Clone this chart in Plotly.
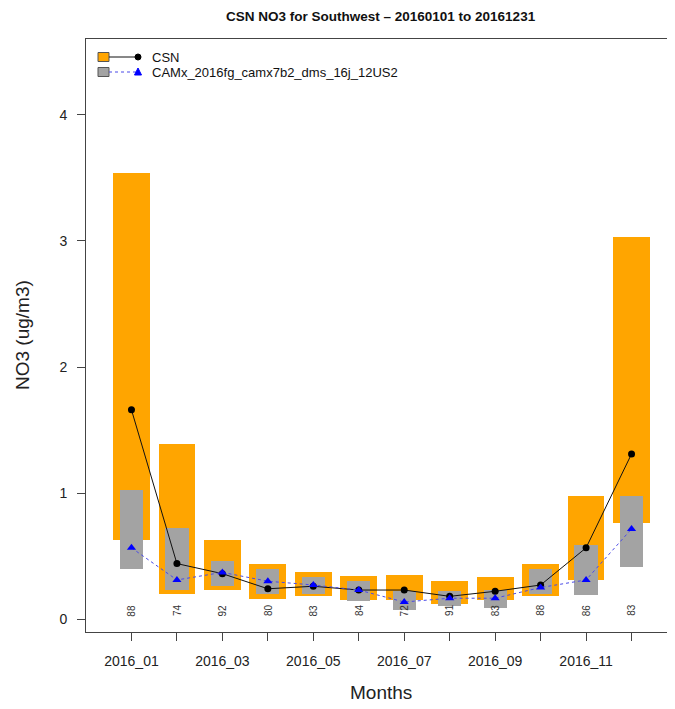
import plotly.graph_objects as go

months = ["2016_01", "2016_02", "2016_03", "2016_04", "2016_05", "2016_06",
          "2016_07", "2016_08", "2016_09", "2016_10", "2016_11", "2016_12"]
tick_labels = ["2016_01", "", "2016_03", "", "2016_05", "", "2016_07", "",
               "2016_09", "", "2016_11", ""]
csn_low = [0.63, 0.20, 0.23, 0.16, 0.18, 0.15, 0.15, 0.12, 0.15, 0.18, 0.31, 0.76]
csn_high = [3.54, 1.39, 0.63, 0.44, 0.37, 0.34, 0.35, 0.30, 0.33, 0.44, 0.98, 3.03]
camx_low = [0.40, 0.23, 0.26, 0.20, 0.20, 0.14, 0.07, 0.10, 0.09, 0.20, 0.19, 0.41]
camx_high = [1.02, 0.72, 0.46, 0.40, 0.33, 0.30, 0.22, 0.22, 0.23, 0.40, 0.59, 0.98]
csn_median = [1.66, 0.44, 0.36, 0.24, 0.26, 0.23, 0.23, 0.18, 0.22, 0.27, 0.565, 1.31]
camx_median = [0.565, 0.31, 0.37, 0.30, 0.27, 0.23, 0.135, 0.165, 0.165, 0.25, 0.31, 0.715]
counts = [88, 74, 92, 80, 83, 84, 72, 91, 83, 88, 86, 83]
yticks = [0, 1, 2, 3, 4]

FONT = "Liberation Sans, Arial, Helvetica, sans-serif"
ORANGE = "#FFA500"
GRAY = "#A3A3A3"
xpos = list(range(1, len(months) + 1))

fig = go.Figure()
fig.add_trace(go.Bar(x=xpos, y=[h - l for h, l in zip(csn_high, csn_low)], base=csn_low,
                     width=0.81, marker=dict(color=ORANGE, line=dict(width=0)),
                     name="CSN", showlegend=False, hoverinfo="skip"))
fig.add_trace(go.Bar(x=xpos, y=[h - l for h, l in zip(camx_high, camx_low)], base=camx_low,
                     width=0.51, marker=dict(color=GRAY, line=dict(width=0)),
                     name="CAMx", showlegend=False, hoverinfo="skip"))
fig.add_trace(go.Scatter(x=xpos, y=csn_median, mode="lines+markers",
                         line=dict(color="#111111", width=1),
                         marker=dict(symbol="circle", size=7, color="#000000"),
                         showlegend=False))
fig.add_trace(go.Scatter(x=xpos, y=camx_median, mode="lines+markers",
                         line=dict(color="#4a4ae8", width=1, dash="3px,3px"),
                         marker=dict(symbol="triangle-up", size=8, color="#0000FF"),
                         showlegend=False))

# count labels
for xp, c in zip(xpos, counts):
    fig.add_annotation(x=xp, y=0.07, xref="x", yref="y", text=str(c), showarrow=False,
                       textangle=-90, font=dict(family=FONT, size=10, color="#333333"))

# page body has an 8px margin: work in figure coords = screen coords - 8
OFF = 8
L, T = 86 - OFF, 39 - OFF          # plot area left/top in figure coords
PR, PB = 677 - OFF, 632 - OFF      # plot area right/bottom in figure coords
W, H = PR, 709 - OFF
B = H - PB
pw = PR - L
ph = PB - T


def px(xs):
    return (xs - OFF - L) / pw


def py(ys):
    return (PB - (ys - OFF)) / ph


shapes = []
rows = [(57, ORANGE, "#111111", "solid", "circle", "CSN"),
        (72, GRAY, "#4a4ae8", "dot", "triangle", "CAMx_2016fg_camx7b2_dms_16j_12US2")]
for ry, fill, lc, dash, mk, label in rows:
    shapes.append(dict(type="rect", xref="paper", yref="paper",
                       x0=px(98), x1=px(109), y0=py(ry + 4.5), y1=py(ry - 4.5),
                       fillcolor=fill, line=dict(color="#555555", width=1)))
    shapes.append(dict(type="line", xref="paper", yref="paper",
                       x0=px(109), x1=px(138), y0=py(ry), y1=py(ry),
                       line=dict(color=lc, width=1, dash=dash)))
    if mk == "circle":
        shapes.append(dict(type="circle", xref="paper", yref="paper",
                           x0=px(135), x1=px(141), y0=py(ry + 3), y1=py(ry - 3),
                           fillcolor="#000000", line=dict(color="#000000", width=1)))
    else:
        path = "M {a},{b} L {c},{d} L {e},{f} Z".format(
            a=px(134.5), b=py(ry + 3), c=px(141.5), d=py(ry + 3), e=px(138), f=py(ry - 4))
        shapes.append(dict(type="path", xref="paper", yref="paper", path=path,
                           fillcolor="#0000FF", line=dict(color="#0000FF", width=1)))
    fig.add_annotation(x=px(150), y=py(ry), xref="paper", yref="paper", text=label,
                       showarrow=False, xanchor="left", yanchor="middle",
                       font=dict(family=FONT, size=13, color="#111111"))

# titles
fig.add_annotation(x=px(381), y=py(16), xref="paper", yref="paper",
                   text="<b>CSN NO3 for Southwest – 20160101 to 20161231</b>",
                   showarrow=False, xanchor="center", yanchor="middle",
                   font=dict(family=FONT, size=13.5, color="#111111"))
fig.add_annotation(x=px(381), y=py(692), xref="paper", yref="paper", text="Months",
                   showarrow=False, xanchor="center", yanchor="middle",
                   font=dict(family=FONT, size=19, color="#222222"))
fig.add_annotation(x=px(22), y=py(335), xref="paper", yref="paper", text="NO3 (ug/m3)",
                   showarrow=False, xanchor="center", yanchor="middle", textangle=-90,
                   font=dict(family=FONT, size=19, color="#222222"))

fig.update_layout(
    width=W, height=H,
    margin=dict(l=L, r=0, t=T, b=B, pad=0),
    paper_bgcolor="white", plot_bgcolor="white",
    barmode="overlay", bargap=0,
    shapes=shapes,
    xaxis=dict(range=[0.0, 13.0], tickvals=xpos, ticktext=tick_labels,
               showline=True, mirror=True, linecolor="#444444", linewidth=1,
               ticks="outside", ticklen=8, tickcolor="#444444", tickwidth=1,
               ticklabelstandoff=8,
               showgrid=False, zeroline=False,
               tickfont=dict(family=FONT, size=14, color="#222222")),
    yaxis=dict(range=[-0.103, 4.603], tickvals=yticks,
               showline=True, mirror=False, linecolor="#444444", linewidth=1,
               ticks="outside", ticklen=8, tickcolor="#444444", tickwidth=1,
               ticklabelstandoff=7,
               showgrid=False, zeroline=False,
               tickfont=dict(family=FONT, size=14, color="#222222")),
)

fig.write_html("out.html")
